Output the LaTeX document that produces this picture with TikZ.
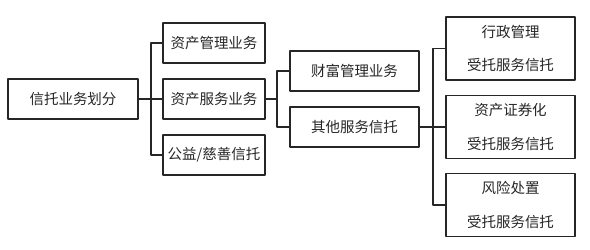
\documentclass[tikz,border=0pt]{standalone}
\usepackage{fontspec}
\setmainfont{Noto Sans CJK SC}
\usepackage{tikz}
\definecolor{ink}{HTML}{262626}
\tikzset{
  every picture/.style={
    line join=round,
    line cap=round,
  },
  box/.style={draw=ink, line width=1.8pt, text=ink, minimum height=1.6cm,
    inner sep=0pt, font=\fontsize{16.5}{38.5}\selectfont},
  tallbox/.style={box, minimum height=2.52cm, align=center},
  link/.style={draw=ink, line width=1.8pt},
}

\begin{document}
\begin{tikzpicture}
\useasboundingbox (0,0) rectangle (23.6,10);
% level 0 and 1
\node[box, minimum width=5.2cm] (root) at (2.92,6.04) {信托业务划分};
\node[box, minimum width=4.08cm] (asset) at (8.56,8.28) {资产管理业务};
\node[box, minimum width=4.08cm] (service) at (8.56,6.04) {资产服务业务};
\node[box, minimum width=4.08cm] (charity) at (8.56,3.8) {公益/慈善信托};
% level 2
\node[box, minimum width=5.16cm] (wealth) at (14.18,7.16) {财富管理业务};
\node[box, minimum width=5.16cm] (other) at (14.18,4.92) {其他服务信托};
% level 3
\node[tallbox, minimum width=5.16cm] (admin) at (20.42,8.06) {行政管理\\受托服务信托};
\node[tallbox, minimum width=5.16cm] (abs) at (20.42,4.92) {资产证券化\\受托服务信托};
\node[tallbox, minimum width=5.16cm] (risk) at (20.42,1.8) {风险处置\\受托服务信托};
% connectors
\coordinate (j1) at (6.04,6.04);
\coordinate (j2) at (11.08,6.04);
\coordinate (j3) at (17.32,4.92);
\draw[link] (root.east) -- (j1);
\draw[link] (j1) |- (asset.west);
\draw[link] (j1) -- (service.west);
\draw[link] (j1) |- (charity.west);
\draw[link] (service.east) -- (j2);
\draw[link] (j2) |- (wealth.west);
\draw[link] (j2) |- (other.west);
\draw[link] (other.east) -- (j3);
\draw[link] (j3) |- (admin.west);
\draw[link] (j3) -- (abs.west);
\draw[link] (j3) |- (risk.west);
\end{tikzpicture}
\end{document}
